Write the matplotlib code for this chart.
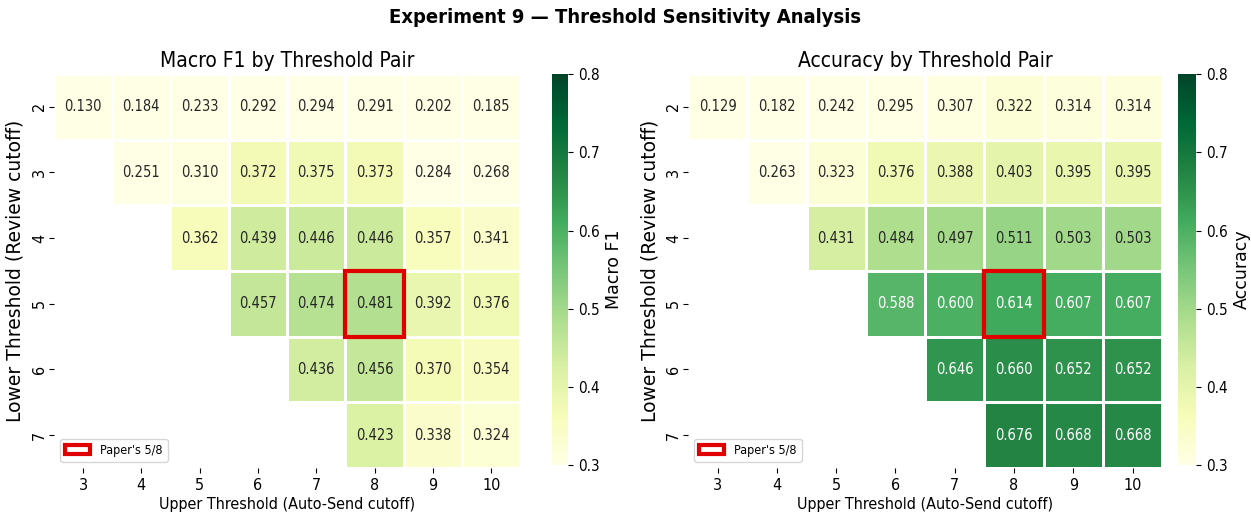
import numpy as np
import pandas as pd
import matplotlib
matplotlib.use("Agg")
import matplotlib.pyplot as plt
import matplotlib.patches as mpatches
import seaborn as sns

plt.rcParams["font.family"] = ["DejaVu Sans"]
plt.rcParams["font.stretch"] = "condensed"

lower = [2, 3, 4, 5, 6, 7]
upper = [3, 4, 5, 6, 7, 8, 9, 10]

# one list per lower threshold, starting at upper = lower + 1
f1_rows = [
    [0.130, 0.184, 0.233, 0.292, 0.294, 0.291, 0.202, 0.185],
    [0.251, 0.310, 0.372, 0.375, 0.373, 0.284, 0.268],
    [0.362, 0.439, 0.446, 0.446, 0.357, 0.341],
    [0.457, 0.474, 0.481, 0.392, 0.376],
    [0.436, 0.456, 0.370, 0.354],
    [0.423, 0.338, 0.324],
]
acc_rows = [
    [0.129, 0.182, 0.242, 0.295, 0.307, 0.322, 0.314, 0.314],
    [0.263, 0.323, 0.376, 0.388, 0.403, 0.395, 0.395],
    [0.431, 0.484, 0.497, 0.511, 0.503, 0.503],
    [0.588, 0.600, 0.614, 0.607, 0.607],
    [0.646, 0.660, 0.652, 0.652],
    [0.676, 0.668, 0.668],
]
paper_lo, paper_hi = 5, 8


def to_grid(rows):
    grid = np.full((len(lower), len(upper)), np.nan)
    for i, r in enumerate(rows):
        grid[i, len(upper) - len(r):] = r
    return pd.DataFrame(grid, index=lower, columns=upper)


fig = plt.figure(figsize=(12.51, 5.18), dpi=100)
fig.suptitle("Experiment 9 — Threshold Sensitivity Analysis", fontsize=14.5,
             fontweight="bold", y=0.985)

panels = [
    (f1_rows, "Macro F1 by Threshold Pair", "Macro F1",
     [0.043, 0.0965, 0.373, 0.761], [0.441, 0.102, 0.013, 0.755]),
    (acc_rows, "Accuracy by Threshold Pair", "Accuracy",
     [0.550, 0.0965, 0.379, 0.761], [0.942, 0.102, 0.014, 0.755]),
]

for rows, title, clabel, pos, cpos in panels:
    ax = fig.add_axes(pos)
    cax = fig.add_axes(cpos)
    df = to_grid(rows)
    sns.heatmap(df, ax=ax, cbar_ax=cax, mask=df.isna(), cmap="YlGn",
                vmin=0.3, vmax=0.8, annot=True, fmt=".3f",
                annot_kws={"fontsize": 10.5}, linewidths=1, linecolor="white",
                cbar_kws={"label": clabel})
    cax.set_ylabel(clabel, fontsize=12.5, fontstretch="normal")
    cax.tick_params(labelsize=11)
    cax.set_yticks([0.3, 0.4, 0.5, 0.6, 0.7, 0.8])
    r = lower.index(paper_lo)
    c = upper.index(paper_hi)
    ax.add_patch(mpatches.Rectangle((c, r), 1, 1, fill=False,
                                    edgecolor="#e00000", linewidth=3))
    ax.set_title(title, fontsize=15, pad=5)
    ax.set_xlabel("Upper Threshold (Auto-Send cutoff)", fontsize=11.5, labelpad=3)
    ax.set_ylabel("Lower Threshold (Review cutoff)", fontsize=13.5,
                  fontstretch="normal", labelpad=5)
    ax.tick_params(labelsize=11.5)
    ax.tick_params(axis="y", pad=1.5)
    handle = mpatches.Patch(facecolor="white", edgecolor="#e00000",
                            linewidth=3, label="Paper's 5/8")
    ax.legend(handles=[handle], loc="lower left", fontsize=9)

fig.savefig("out.png", dpi=100)
